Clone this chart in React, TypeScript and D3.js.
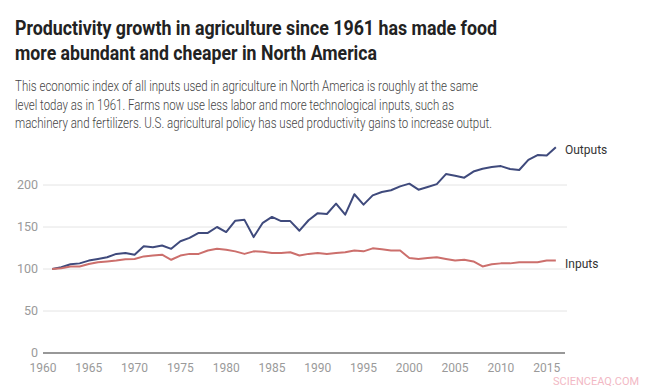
import React, { useEffect, useRef } from 'react';
import * as d3 from 'd3';

const years = d3.range(1961, 2017);

const outputs = [
  100, 102, 105.6, 106.7, 110, 112, 114, 118, 119, 117,
  127, 126, 128, 124, 133, 137, 143, 143, 150, 144,
  157.5, 158.5, 138, 155, 162, 157, 157, 145.6, 158, 166.5,
  165.5, 177.8, 164.7, 189, 176.6, 187.7, 191.7, 193.7, 198.4, 201.6,
  194.4, 197.6, 201, 213, 211, 208.7, 216, 219.4, 221.4, 222.5,
  219, 217.9, 230, 235.7, 235, 245,
];

const inputs = [
  100, 101, 103, 103, 106, 108, 109, 110, 111.5, 112,
  115, 116, 117, 111, 116, 118, 118, 122, 124, 123,
  121, 118, 121, 120.6, 119, 119, 120, 116, 118, 119,
  118, 119, 120, 122, 121, 124.6, 123.4, 122, 122, 113,
  112, 113, 114, 112, 110, 111, 109, 103, 105.6, 106.7,
  106.7, 108, 108, 108, 110, 110,
];

const xTicks = [1960, 1965, 1970, 1975, 1980, 1985, 1990, 1995, 2000, 2005, 2010, 2015];
const yTicks = [0, 50, 100, 150, 200];

const titleLines = [
  'Productivity growth in agriculture since 1961 has made food',
  'more abundant and cheaper in North America',
];
const titleWidths = [482, 362];
const subtitleLines = [
  'This economic index of all inputs used in agriculture in North America is roughly at the same',
  'level today as in 1961. Farms now use less labor and more technological inputs, such as',
  'machinery and fertilizers. U.S. agricultural policy has used productivity gains to increase output.',
];
const subtitleWidths = [463, 439, 477];

const series = [
  { name: 'Outputs', values: outputs, color: '#3f4a7c' },
  { name: 'Inputs', values: inputs, color: '#cc6f6c' },
];

const App = () => {
  const svgRef = useRef<SVGSVGElement>(null);

  useEffect(() => {
    const svg = d3.select(svgRef.current);
    svg.selectAll('*').remove();
    const font = 'Roboto, sans-serif';

    // titre et sous-titre (police étroite dans l'original, on resserre)
    svg.append('g')
      .selectAll('text')
      .data(titleLines)
      .enter()
      .append('text')
      .attr('x', 15)
      .attr('y', (d, i) => 35 + i * 24.5)
      .attr('font-family', font)
      .attr('font-weight', 700)
      .attr('font-size', 20.5)
      .attr('fill', '#222')
      .attr('textLength', (d, i) => titleWidths[i])
      .attr('lengthAdjust', 'spacingAndGlyphs')
      .text(d => d);

    svg.append('g')
      .selectAll('text')
      .data(subtitleLines)
      .enter()
      .append('text')
      .attr('x', 15)
      .attr('y', (d, i) => 91 + i * 18.5)
      .attr('font-family', font)
      .attr('font-weight', 300)
      .attr('font-size', 14.5)
      .attr('fill', '#444')
      .attr('textLength', (d, i) => subtitleWidths[i])
      .attr('lengthAdjust', 'spacingAndGlyphs')
      .text(d => d);

    const x = d3.scaleLinear().domain([1960, 2017]).range([43, 565]);
    const y = d3.scaleLinear().domain([0, 200]).range([353, 185]);

    // grille
    svg.append('g')
      .selectAll('line')
      .data(yTicks.filter(t => t > 0))
      .enter()
      .append('line')
      .attr('x1', 43)
      .attr('x2', 567)
      .attr('y1', d => y(d))
      .attr('y2', d => y(d))
      .attr('stroke', '#e4e4e4')
      .attr('stroke-width', 1);

    svg.append('g')
      .selectAll('text')
      .data(yTicks)
      .enter()
      .append('text')
      .attr('x', 38)
      .attr('y', d => y(d))
      .attr('dy', '0.35em')
      .attr('text-anchor', 'end')
      .attr('font-family', font)
      .attr('font-size', 12.5)
      .attr('fill', '#9a9a9a')
      .text(d => d);

    svg.append('line')
      .attr('x1', 43)
      .attr('x2', 565)
      .attr('y1', y(0))
      .attr('y2', y(0))
      .attr('stroke', '#333')
      .attr('stroke-width', 1.2);

    svg.append('g')
      .selectAll('text')
      .data(xTicks)
      .enter()
      .append('text')
      .attr('x', d => x(d))
      .attr('y', 372)
      .attr('text-anchor', 'middle')
      .attr('font-family', font)
      .attr('font-size', 12)
      .attr('fill', '#9a9a9a')
      .text(d => d);

    const line = d3.line<number>()
      .x((d, i) => x(years[i]))
      .y(d => y(d));

    series.forEach(s => {
      svg.append('path')
        .datum(s.values)
        .attr('d', line)
        .attr('fill', 'none')
        .attr('stroke', s.color)
        .attr('stroke-width', 2)
        .attr('stroke-linejoin', 'round');

      svg.append('text')
        .attr('x', 565)
        .attr('y', y(s.values[s.values.length - 1]) + 3)
        .attr('dy', '0.35em')
        .attr('font-family', font)
        .attr('font-size', 12)
        .attr('fill', '#333')
        .text(s.name);
    });

    svg.append('text')
      .attr('x', 553)
      .attr('y', 385)
      .attr('font-family', font)
      .attr('font-size', 11)
      .attr('fill', '#f2b8c4')
      .text('SCIENCEAQ.COM');
  }, []);

  return (
    <svg
      ref={svgRef}
      width={646}
      height={389}
      style={{ position: 'absolute', left: 0, top: 0, background: '#fff' }}
    />
  );
};

export default App;
